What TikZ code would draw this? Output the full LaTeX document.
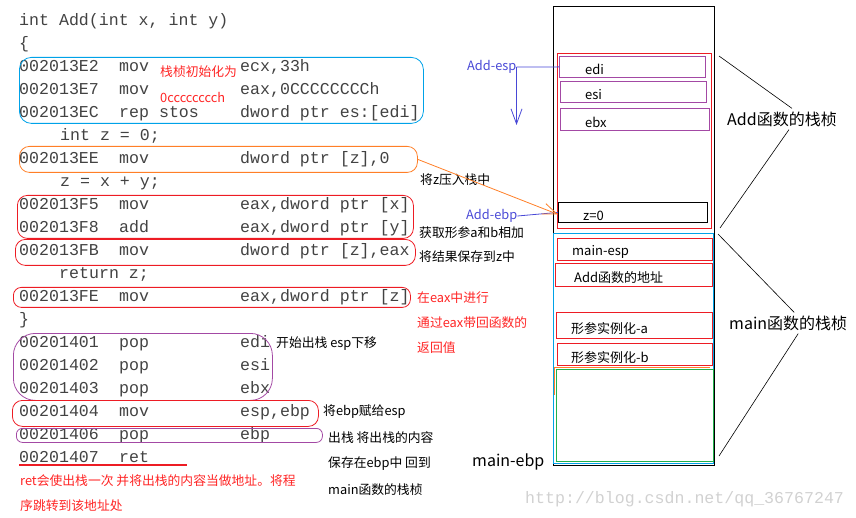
\documentclass[tikz,border=0pt]{standalone}
\usepackage{fontspec}
\setmonofont{Liberation Mono}
\newfontfamily\cjk{Noto Sans CJK SC}
\usetikzlibrary{arrows.meta}
\definecolor{lineblue}{RGB}{0,162,232}
\definecolor{lineorange}{RGB}{255,127,39}
\definecolor{linered}{RGB}{237,28,36}
\definecolor{linepurple}{RGB}{163,73,164}
\definecolor{espblue}{RGB}{72,72,214}
\definecolor{notered}{RGB}{255,36,36}
\definecolor{linegreen}{RGB}{34,177,76}
% one row of disassembly: name, row, address, mnemonic, operands
\newcommand\asmrow[5]{%
  \node[code] (#1a) at (19,{20+23*#2}) {#3};
  \node[code] (#1m) at (119,{20+23*#2}) {#4};
  \node[code] (#1o) at (240,{20+23*#2}) {#5};}
\begin{document}
\begin{tikzpicture} [x=1pt,y=-1pt,
    code/.style={anchor=mid west,inner sep=0pt,yshift=-3.5pt,text=black!74,font=\ttfamily\fontsize{16.6}{18}\selectfont},
    note/.style={anchor=west,inner sep=0pt,font=\cjk\fontsize{12.8}{15}\selectfont},
    bignote/.style={anchor=west,inner sep=0pt,font=\cjk\fontsize{16}{18}\selectfont},
    codebox/.style={draw,line width=0.8pt,anchor=north west,inner sep=0pt},
    slot/.style={draw,line width=0.8pt,anchor=north west,inner sep=0pt},
    slottext/.style={anchor=west,inner sep=0pt,yshift=-3pt,font=\cjk\fontsize{13}{15}\selectfont}]
\useasboundingbox (0,0) rectangle (856,518);
%source and disassembly
    \node[code] (l0) at (19,20) {int Add(int x, int y)};
    \node[code] (l1) at (19,43) {\{};
    \asmrow{l2}{2}{002013E2}{mov}{ecx,33h}
    \asmrow{l3}{3}{002013E7}{mov}{eax,0CCCCCCCCh}
    \asmrow{l4}{4}{002013EC}{rep stos}{dword ptr es:[edi]}
    \node[code] (l5) at (60,135) {int z = 0;};
    \asmrow{l6}{6}{002013EE}{mov}{dword ptr [z],0}
    \node[code] (l7) at (60,181) {z = x + y;};
    \asmrow{l8}{8}{002013F5}{mov}{eax,dword ptr [x]}
    \asmrow{l9}{9}{002013F8}{add}{eax,dword ptr [y]}
    \asmrow{l10}{10}{002013FB}{mov}{dword ptr [z],eax}
    \node[code] (l11) at (59,273) {return z;};
    \asmrow{l12}{12}{002013FE}{mov}{eax,dword ptr [z]}
    \node[code] (l13) at (19,319) {\}};
    \asmrow{l14}{14}{00201401}{pop}{edi}
    \asmrow{l15}{15}{00201402}{pop}{esi}
    \asmrow{l16}{16}{00201403}{pop}{ebx}
    \asmrow{l17}{17}{00201404}{mov}{esp,ebp}
    \asmrow{l18}{18}{00201406}{pop}{ebp}
    \node[code] (l19a) at (19,457) {00201407};
    \node[code] (l19m) at (119,457) {ret};
%boxes round the code
    \node[codebox,draw=lineblue,rounded corners=12pt,minimum width=404,minimum height=66] (initbox) at (19,57) {};
    \node[codebox,draw=lineorange,rounded corners=10pt,minimum width=398,minimum height=26] (zbox) at (19,146) {};
    \node[codebox,draw=linered,rounded corners=10pt,minimum width=396,minimum height=43] (addbox) at (17,195) {};
    \node[codebox,draw=linered,rounded corners=10pt,minimum width=400,minimum height=26] (savebox) at (15,239) {};
    \node[codebox,draw=linered,rounded corners=8pt,minimum width=397,minimum height=20] (retbox) at (13,287) {};
    \node[codebox,draw=linepurple,rounded corners=22pt,minimum width=259,minimum height=67] (popbox) at (13,333) {};
    \node[codebox,draw=linered,rounded corners=10pt,minimum width=306,minimum height=26] (movbox) at (12,400) {};
    \node[codebox,draw=linepurple,rounded corners=6pt,minimum width=306,minimum height=14] (ebpbox) at (16,428) {};
    \draw [color=linered, line width=2pt] (l19a.south west |- 0,465) -- (187,465);
%notes
    \node[note,text=notered] (n1) at (160,72) {栈桢初始化为};
    \node[note,text=notered] (n2) at (160,97) {0cccccccch};
    \node[note] (n3) at (420,180) {将z压入栈中};
    \node[note] (n4) at (419,233) {获取形参a和b相加};
    \node[note] (n5) at (419,257) {将结果保存到z中};
    \node[note,text=notered] (n6) at (417,298) {在eax中进行};
    \node[note,text=notered] (n7) at (417,323) {通过eax带回函数的};
    \node[note,text=notered] (n8) at (417,348) {返回值};
    \node[note] (n9) at (276,344) {开始出栈 esp下移};
    \node[note] (n10) at (323,412) {将ebp赋给esp};
    \node[note] (n11) at (328,438) {出栈 将出栈的内容};
    \node[note] (n12) at (328,464) {保存在ebp中 回到};
    \node[note] (n13) at (328,490) {main函数的栈桢};
    \node[note,text=notered] (n14) at (20,481) {ret会使出栈一次 并将出栈的内容当做地址。将程};
    \node[note,text=notered] (n15) at (20,506) {序跳转到该地址处};
%stack
    \node[slot,minimum width=161,minimum height=459] (stack) at (553,6) {};
    \node[slot,draw=linered,minimum width=154,minimum height=175] (addframe) at (557,53) {};
    \node[slot,draw=linepurple,minimum width=146,minimum height=21] (edi) at (559,56) {};
    \node[slot,draw=linepurple,minimum width=146,minimum height=21] (esi) at (560,81) {};
    \node[slot,draw=linepurple,minimum width=149,minimum height=22] (ebx) at (560,108) {};
    \node[slot,minimum width=149,minimum height=20] (zslot) at (558,202) {};
    \node[slot,draw=lineblue,minimum width=160,minimum height=230] (mainframe) at (553,233) {};
    \node[slot,draw=linered,minimum width=155,minimum height=22] (mainesp) at (557,238) {};
    \node[slot,draw=linered,minimum width=157,minimum height=23] (addaddr) at (555,263) {};
    \node[slot,draw=linered,minimum width=156,minimum height=26] (parama) at (556,312) {};
    \node[slot,draw=linered,minimum width=155,minimum height=22] (paramb) at (557,343) {};
    \node[slot,draw=linegreen,minimum width=157,minimum height=92] (rest) at (556,369) {};
    \draw [color=lineorange, line width=0.8pt] (554,395) -- (554,367) -- (710,367);
    \node[slottext] (ediT) at ([xshift=26]edi.west) {edi};
    \node[slottext] (esiT) at ([xshift=25]esi.west) {esi};
    \node[slottext] (ebxT) at ([xshift=25]ebx.west) {ebx};
    \node[slottext] (zT) at ([xshift=25]zslot.west) {z=0};
    \node[slottext] (mainespT) at ([xshift=15]mainesp.west) {main-esp};
    \node[slottext] (addaddrT) at ([xshift=19]addaddr.west) {Add函数的地址};
    \node[slottext] (paramaT) at ([xshift=15]parama.west) {形参实例化-a};
    \node[slottext] (parambT) at ([xshift=14]paramb.west) {形参实例化-b};
%stack pointers
    \node[note,text=espblue] (addesp) at (467,67) {Add-esp};
    \node[note,text=espblue] (addebp) at (466,216) {Add-ebp};
    \node[bignote] (mainebp) at (472,462) {main-ebp};
    \coordinate (espdown) at (addesp.east |- 0,125);
    \draw [color=espblue, line width=0.8pt] (addesp.east) -- (edi.west);
    \draw [color=espblue, line width=0.8pt] (addebp.east) -- (zslot.west);
    \draw [color=espblue, line width=0.8pt, -{Straight Barb[length=15pt,width=11pt]}] (addesp.east) -- (espdown);
    \draw [color=lineorange, line width=0.8pt, -{Straight Barb[length=14pt,width=11pt]}] (zbox.east) -- ([yshift=-2]zslot.west);
%frames
    \node[bignote] (addlabel) at (727,119) {Add函数的栈桢};
    \node[bignote] (mainlabel) at (729,323) {main函数的栈桢};
    \coordinate (add1) at (719,56);
    \coordinate (add2) at (720,228);
    \coordinate (main1) at (718,234);
    \coordinate (main2) at (719,456);
    \draw [line width=0.6pt] (add1) -- ([xshift=10,yshift=3]addlabel.north);
    \draw [line width=0.6pt] (add2) -- ([xshift=7,yshift=-3]addlabel.south);
    \draw [line width=0.6pt] (main1) -- ([xshift=6,yshift=3]mainlabel.north);
    \draw [line width=0.6pt] (main2) -- ([xshift=10,yshift=-3]mainlabel.south);
%watermark
    \node[code,text=black!18] (mark) at (525,498) {http://blog.csdn.net/qq\_36767247};
    \end{tikzpicture}
\end{document}
